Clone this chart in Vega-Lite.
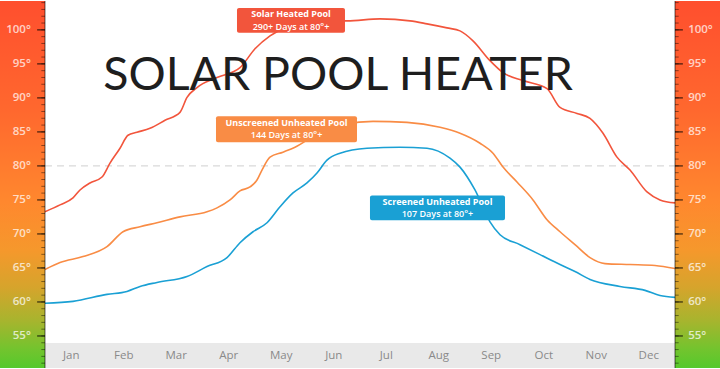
{
  "$schema": "https://vega.github.io/schema/vega-lite/v6.json",
  "width": 720,
  "height": 369,
  "padding": 0,
  "autosize": {"type": "fit", "contains": "padding"},
  "background": "#ffffff",
  "config": {"view": {"stroke": null}, "axis": {"disable": true}},
  "datasets": {
    "temps": [
      {"series": "Solar Heated Pool", "month": 0, "temp": 73.25},
      {"series": "Solar Heated Pool", "month": 0.286, "temp": 74.27},
      {"series": "Solar Heated Pool", "month": 0.533, "temp": 75.29},
      {"series": "Solar Heated Pool", "month": 0.667, "temp": 76.46},
      {"series": "Solar Heated Pool", "month": 0.857, "temp": 77.49},
      {"series": "Solar Heated Pool", "month": 1.086, "temp": 78.36},
      {"series": "Solar Heated Pool", "month": 1.238, "temp": 80.41},
      {"series": "Solar Heated Pool", "month": 1.429, "temp": 82.6},
      {"series": "Solar Heated Pool", "month": 1.581, "temp": 84.5},
      {"series": "Solar Heated Pool", "month": 1.752, "temp": 84.94},
      {"series": "Solar Heated Pool", "month": 2.0, "temp": 85.53},
      {"series": "Solar Heated Pool", "month": 2.286, "temp": 86.7},
      {"series": "Solar Heated Pool", "month": 2.571, "temp": 87.87},
      {"series": "Solar Heated Pool", "month": 2.705, "temp": 90.06},
      {"series": "Solar Heated Pool", "month": 2.895, "temp": 91.52},
      {"series": "Solar Heated Pool", "month": 3.276, "temp": 92.98},
      {"series": "Solar Heated Pool", "month": 3.714, "temp": 94.44},
      {"series": "Solar Heated Pool", "month": 4.0, "temp": 97.22},
      {"series": "Solar Heated Pool", "month": 4.286, "temp": 99.12},
      {"series": "Solar Heated Pool", "month": 4.667, "temp": 100.58},
      {"series": "Solar Heated Pool", "month": 5.238, "temp": 101.32},
      {"series": "Solar Heated Pool", "month": 5.752, "temp": 101.32},
      {"series": "Solar Heated Pool", "month": 6.381, "temp": 101.61},
      {"series": "Solar Heated Pool", "month": 6.952, "temp": 101.32},
      {"series": "Solar Heated Pool", "month": 7.276, "temp": 100.88},
      {"series": "Solar Heated Pool", "month": 7.657, "temp": 100.29},
      {"series": "Solar Heated Pool", "month": 7.905, "temp": 99.85},
      {"series": "Solar Heated Pool", "month": 8.152, "temp": 98.39},
      {"series": "Solar Heated Pool", "month": 8.476, "temp": 95.47},
      {"series": "Solar Heated Pool", "month": 8.724, "temp": 93.71},
      {"series": "Solar Heated Pool", "month": 9.105, "temp": 92.54},
      {"series": "Solar Heated Pool", "month": 9.562, "temp": 91.37},
      {"series": "Solar Heated Pool", "month": 9.81, "temp": 88.6},
      {"series": "Solar Heated Pool", "month": 10.133, "temp": 87.72},
      {"series": "Solar Heated Pool", "month": 10.381, "temp": 86.99},
      {"series": "Solar Heated Pool", "month": 10.629, "temp": 84.8},
      {"series": "Solar Heated Pool", "month": 10.895, "temp": 81.29},
      {"series": "Solar Heated Pool", "month": 11.143, "temp": 79.39},
      {"series": "Solar Heated Pool", "month": 11.467, "temp": 76.17},
      {"series": "Solar Heated Pool", "month": 11.714, "temp": 75.0},
      {"series": "Solar Heated Pool", "month": 12.0, "temp": 74.56},

      {"series": "Unscreened Unheated Pool", "month": 0, "temp": 64.77},
      {"series": "Unscreened Unheated Pool", "month": 0.286, "temp": 65.79},
      {"series": "Unscreened Unheated Pool", "month": 0.724, "temp": 66.67},
      {"series": "Unscreened Unheated Pool", "month": 1.181, "temp": 68.13},
      {"series": "Unscreened Unheated Pool", "month": 1.486, "temp": 70.32},
      {"series": "Unscreened Unheated Pool", "month": 1.81, "temp": 71.05},
      {"series": "Unscreened Unheated Pool", "month": 2.133, "temp": 71.64},
      {"series": "Unscreened Unheated Pool", "month": 2.571, "temp": 72.51},
      {"series": "Unscreened Unheated Pool", "month": 3.086, "temp": 73.25},
      {"series": "Unscreened Unheated Pool", "month": 3.276, "temp": 73.83},
      {"series": "Unscreened Unheated Pool", "month": 3.524, "temp": 75.0},
      {"series": "Unscreened Unheated Pool", "month": 3.714, "temp": 76.32},
      {"series": "Unscreened Unheated Pool", "month": 3.905, "temp": 76.9},
      {"series": "Unscreened Unheated Pool", "month": 4.038, "temp": 77.92},
      {"series": "Unscreened Unheated Pool", "month": 4.133, "temp": 79.39},
      {"series": "Unscreened Unheated Pool", "month": 4.286, "temp": 81.29},
      {"series": "Unscreened Unheated Pool", "month": 4.533, "temp": 82.02},
      {"series": "Unscreened Unheated Pool", "month": 4.762, "temp": 82.75},
      {"series": "Unscreened Unheated Pool", "month": 5.238, "temp": 84.94},
      {"series": "Unscreened Unheated Pool", "month": 5.714, "temp": 86.11},
      {"series": "Unscreened Unheated Pool", "month": 6.248, "temp": 86.55},
      {"series": "Unscreened Unheated Pool", "month": 6.895, "temp": 86.4},
      {"series": "Unscreened Unheated Pool", "month": 7.524, "temp": 85.67},
      {"series": "Unscreened Unheated Pool", "month": 7.905, "temp": 84.8},
      {"series": "Unscreened Unheated Pool", "month": 8.286, "temp": 83.33},
      {"series": "Unscreened Unheated Pool", "month": 8.533, "temp": 81.87},
      {"series": "Unscreened Unheated Pool", "month": 8.724, "temp": 79.82},
      {"series": "Unscreened Unheated Pool", "month": 8.99, "temp": 77.63},
      {"series": "Unscreened Unheated Pool", "month": 9.295, "temp": 75.0},
      {"series": "Unscreened Unheated Pool", "month": 9.562, "temp": 72.08},
      {"series": "Unscreened Unheated Pool", "month": 9.81, "temp": 70.32},
      {"series": "Unscreened Unheated Pool", "month": 10.095, "temp": 68.42},
      {"series": "Unscreened Unheated Pool", "month": 10.381, "temp": 66.52},
      {"series": "Unscreened Unheated Pool", "month": 10.667, "temp": 65.64},
      {"series": "Unscreened Unheated Pool", "month": 11.143, "temp": 65.5},
      {"series": "Unscreened Unheated Pool", "month": 11.619, "temp": 65.35},
      {"series": "Unscreened Unheated Pool", "month": 12.0, "temp": 64.91},

      {"series": "Screened Unheated Pool", "month": 0, "temp": 59.8},
      {"series": "Screened Unheated Pool", "month": 0.533, "temp": 60.09},
      {"series": "Screened Unheated Pool", "month": 1.181, "temp": 61.11},
      {"series": "Screened Unheated Pool", "month": 1.562, "temp": 61.55},
      {"series": "Screened Unheated Pool", "month": 1.81, "temp": 62.28},
      {"series": "Screened Unheated Pool", "month": 2.133, "temp": 62.87},
      {"series": "Screened Unheated Pool", "month": 2.705, "temp": 63.74},
      {"series": "Screened Unheated Pool", "month": 3.086, "temp": 65.2},
      {"series": "Screened Unheated Pool", "month": 3.467, "temp": 66.52},
      {"series": "Screened Unheated Pool", "month": 3.714, "temp": 68.71},
      {"series": "Screened Unheated Pool", "month": 3.962, "temp": 70.32},
      {"series": "Screened Unheated Pool", "month": 4.229, "temp": 71.64},
      {"series": "Screened Unheated Pool", "month": 4.476, "temp": 73.98},
      {"series": "Screened Unheated Pool", "month": 4.724, "temp": 76.02},
      {"series": "Screened Unheated Pool", "month": 4.99, "temp": 77.49},
      {"series": "Screened Unheated Pool", "month": 5.181, "temp": 78.95},
      {"series": "Screened Unheated Pool", "month": 5.371, "temp": 80.85},
      {"series": "Screened Unheated Pool", "month": 5.619, "temp": 81.87},
      {"series": "Screened Unheated Pool", "month": 6.133, "temp": 82.6},
      {"series": "Screened Unheated Pool", "month": 6.762, "temp": 82.75},
      {"series": "Screened Unheated Pool", "month": 7.276, "temp": 82.6},
      {"series": "Screened Unheated Pool", "month": 7.714, "temp": 81.14},
      {"series": "Screened Unheated Pool", "month": 7.905, "temp": 79.82},
      {"series": "Screened Unheated Pool", "month": 8.19, "temp": 76.46},
      {"series": "Screened Unheated Pool", "month": 8.476, "temp": 71.78},
      {"series": "Screened Unheated Pool", "month": 8.667, "temp": 69.88},
      {"series": "Screened Unheated Pool", "month": 9.048, "temp": 68.42},
      {"series": "Screened Unheated Pool", "month": 9.429, "temp": 66.96},
      {"series": "Screened Unheated Pool", "month": 9.81, "temp": 65.5},
      {"series": "Screened Unheated Pool", "month": 10.095, "temp": 64.47},
      {"series": "Screened Unheated Pool", "month": 10.381, "temp": 63.3},
      {"series": "Screened Unheated Pool", "month": 10.952, "temp": 62.28},
      {"series": "Screened Unheated Pool", "month": 11.429, "temp": 61.7},
      {"series": "Screened Unheated Pool", "month": 11.714, "temp": 60.96},
      {"series": "Screened Unheated Pool", "month": 12.0, "temp": 60.67}
    ],
    "months": [
      {"name": "Jan", "pos": 0.5}, {"name": "Feb", "pos": 1.5}, {"name": "Mar", "pos": 2.5},
      {"name": "Apr", "pos": 3.5}, {"name": "May", "pos": 4.5}, {"name": "Jun", "pos": 5.5},
      {"name": "Jul", "pos": 6.5}, {"name": "Aug", "pos": 7.5}, {"name": "Sep", "pos": 8.5},
      {"name": "Oct", "pos": 9.5}, {"name": "Nov", "pos": 10.5}, {"name": "Dec", "pos": 11.5}
    ],
    "degrees": [
      {"deg": 51}, {"deg": 52}, {"deg": 53}, {"deg": 54}, {"deg": 55}, {"deg": 56}, {"deg": 57}, {"deg": 58}, {"deg": 59},
      {"deg": 60}, {"deg": 61}, {"deg": 62}, {"deg": 63}, {"deg": 64}, {"deg": 65}, {"deg": 66}, {"deg": 67}, {"deg": 68}, {"deg": 69},
      {"deg": 70}, {"deg": 71}, {"deg": 72}, {"deg": 73}, {"deg": 74}, {"deg": 75}, {"deg": 76}, {"deg": 77}, {"deg": 78}, {"deg": 79},
      {"deg": 80}, {"deg": 81}, {"deg": 82}, {"deg": 83}, {"deg": 84}, {"deg": 85}, {"deg": 86}, {"deg": 87}, {"deg": 88}, {"deg": 89},
      {"deg": 90}, {"deg": 91}, {"deg": 92}, {"deg": 93}, {"deg": 94}, {"deg": 95}, {"deg": 96}, {"deg": 97}, {"deg": 98}, {"deg": 99},
      {"deg": 100}, {"deg": 101}, {"deg": 102}, {"deg": 103}, {"deg": 104}
    ],
    "scaleLabels": [
      {"deg": 55, "label": "55°"}, {"deg": 60, "label": "60°"}, {"deg": 65, "label": "65°"},
      {"deg": 70, "label": "70°"}, {"deg": 75, "label": "75°"}, {"deg": 80, "label": "80°"},
      {"deg": 85, "label": "85°"}, {"deg": 90, "label": "90°"}, {"deg": 95, "label": "95°"},
      {"deg": 100, "label": "100°"}
    ]
  },
  "layer": [
    {
      "data": {"values": [{}]},
      "mark": {"type": "rect", "fill": "#e9e9e9"},
      "encoding": {
        "x": {"datum": 0, "type": "quantitative", "scale": {"domain": [-0.857, 12.857], "nice": false, "zero": false}},
        "x2": {"datum": 12},
        "y": {"datum": 50.29, "type": "quantitative", "scale": {"domain": [50.29, 104.24], "nice": false, "zero": false}},
        "y2": {"datum": 53.95}
      }
    },
    {
      "data": {"values": [{}]},
      "mark": {"type": "rule", "color": "#cfcfcf", "strokeDash": [7, 5], "strokeWidth": 1},
      "encoding": {
        "x": {"datum": 0, "type": "quantitative"},
        "x2": {"datum": 12},
        "y": {"datum": 80, "type": "quantitative"}
      }
    },
    {
      "data": {"name": "temps"},
      "mark": {"type": "line", "interpolate": "monotone", "strokeWidth": 1.6},
      "encoding": {
        "x": {"field": "month", "type": "quantitative"},
        "y": {"field": "temp", "type": "quantitative"},
        "color": {
          "field": "series", "type": "nominal", "legend": null,
          "scale": {"domain": ["Solar Heated Pool", "Unscreened Unheated Pool", "Screened Unheated Pool"], "range": ["#f2553c", "#f98c45", "#1aa0d4"]}
        }
      }
    },
    {
      "data": {"name": "months"},
      "mark": {"type": "text", "font": "Open Sans", "fontSize": 11.5, "color": "#8a8a8a", "align": "center", "baseline": "middle"},
      "encoding": {
        "x": {"field": "pos", "type": "quantitative"},
        "y": {"datum": 52.1, "type": "quantitative"},
        "text": {"field": "name"}
      }
    },
    {
      "data": {"values": [{"title": "SOLAR POOL HEATER"}]},
      "mark": {"type": "text", "font": "Lato", "fontWeight": "normal", "fontSize": 46.5, "color": "#1e1e1e", "align": "center", "baseline": "alphabetic"},
      "encoding": {
        "x": {"datum": 5.581, "type": "quantitative"},
        "y": {"datum": 91.1, "type": "quantitative"},
        "text": {"field": "title"}
      }
    },
    {
      "data": {"values": [{"series": "Solar Heated Pool", "note": "290+ Days at 80°+"}]},
      "layer": [
        {"mark": {"type": "rect", "fill": "#f2553c", "cornerRadius": 2},
         "encoding": {"x": {"datum": 3.657, "type": "quantitative"}, "x2": {"datum": 5.714}, "y": {"datum": 99.56, "type": "quantitative"}, "y2": {"datum": 103.22}}},
        {"mark": {"type": "text", "font": "Open Sans", "fontWeight": "bold", "fontSize": 9, "color": "#ffffff", "align": "center", "baseline": "middle"},
         "encoding": {"x": {"datum": 4.686, "type": "quantitative"}, "y": {"datum": 102.3, "type": "quantitative"}, "text": {"field": "series"}}},
        {"mark": {"type": "text", "font": "Open Sans", "fontWeight": 600, "fontSize": 9, "color": "#ffffff", "align": "center", "baseline": "middle"},
         "encoding": {"x": {"datum": 4.686, "type": "quantitative"}, "y": {"datum": 100.48, "type": "quantitative"}, "text": {"field": "note"}}}
      ]
    },
    {
      "data": {"values": [{"series": "Unscreened Unheated Pool", "note": "144 Days at 80°+"}]},
      "layer": [
        {"mark": {"type": "rect", "fill": "#f98c45", "cornerRadius": 2},
         "encoding": {"x": {"datum": 3.257, "type": "quantitative"}, "x2": {"datum": 5.943}, "y": {"datum": 83.48, "type": "quantitative"}, "y2": {"datum": 87.28}}},
        {"mark": {"type": "text", "font": "Open Sans", "fontWeight": "bold", "fontSize": 9, "color": "#ffffff", "align": "center", "baseline": "middle"},
         "encoding": {"x": {"datum": 4.6, "type": "quantitative"}, "y": {"datum": 86.29, "type": "quantitative"}, "text": {"field": "series"}}},
        {"mark": {"type": "text", "font": "Open Sans", "fontWeight": 600, "fontSize": 9, "color": "#ffffff", "align": "center", "baseline": "middle"},
         "encoding": {"x": {"datum": 4.6, "type": "quantitative"}, "y": {"datum": 84.47, "type": "quantitative"}, "text": {"field": "note"}}}
      ]
    },
    {
      "data": {"values": [{"series": "Screened Unheated Pool", "note": "107 Days at 80°+"}]},
      "layer": [
        {"mark": {"type": "rect", "fill": "#1aa0d4", "cornerRadius": 2},
         "encoding": {"x": {"datum": 6.19, "type": "quantitative"}, "x2": {"datum": 8.762}, "y": {"datum": 72.0, "type": "quantitative"}, "y2": {"datum": 75.65}}},
        {"mark": {"type": "text", "font": "Open Sans", "fontWeight": "bold", "fontSize": 9, "color": "#ffffff", "align": "center", "baseline": "middle"},
         "encoding": {"x": {"datum": 7.476, "type": "quantitative"}, "y": {"datum": 74.74, "type": "quantitative"}, "text": {"field": "series"}}},
        {"mark": {"type": "text", "font": "Open Sans", "fontWeight": 600, "fontSize": 9, "color": "#ffffff", "align": "center", "baseline": "middle"},
         "encoding": {"x": {"datum": 7.476, "type": "quantitative"}, "y": {"datum": 72.92, "type": "quantitative"}, "text": {"field": "note"}}}
      ]
    },
    {
      "data": {"values": [{}]},
      "mark": {"type": "rect", "fill": {"gradient": "linear", "x1": 0, "y1": 0, "x2": 0, "y2": 1,
        "stops": [
          {"offset": 0, "color": "#ff4f2e"}, {"offset": 0.3, "color": "#ff682e"},
          {"offset": 0.55, "color": "#ff882e"}, {"offset": 0.68, "color": "#f5982c"},
          {"offset": 0.78, "color": "#d6a42c"}, {"offset": 0.87, "color": "#a8b42e"},
          {"offset": 0.95, "color": "#72c42e"}, {"offset": 1, "color": "#55c92c"}]}},
      "encoding": {
        "x": {"datum": -0.857, "type": "quantitative"}, "x2": {"datum": 0},
        "y": {"datum": 50.29, "type": "quantitative"}, "y2": {"datum": 104.24}
      }
    },
    {
      "data": {"values": [{}]},
      "mark": {"type": "rect", "fill": {"gradient": "linear", "x1": 0, "y1": 0, "x2": 0, "y2": 1,
        "stops": [
          {"offset": 0, "color": "#ff4f2e"}, {"offset": 0.3, "color": "#ff682e"},
          {"offset": 0.55, "color": "#ff882e"}, {"offset": 0.68, "color": "#f5982c"},
          {"offset": 0.78, "color": "#d6a42c"}, {"offset": 0.87, "color": "#a8b42e"},
          {"offset": 0.95, "color": "#72c42e"}, {"offset": 1, "color": "#55c92c"}]}},
      "encoding": {
        "x": {"datum": 12, "type": "quantitative"}, "x2": {"datum": 12.857},
        "y": {"datum": 50.29, "type": "quantitative"}, "y2": {"datum": 104.24}
      }
    },
    {
      "data": {"values": [{}]},
      "mark": {"type": "rule", "color": "#000000", "opacity": 0.5, "strokeWidth": 1.2},
      "encoding": {"x": {"datum": 0, "type": "quantitative"}, "y": {"datum": 50.29, "type": "quantitative"}, "y2": {"datum": 104.24}}
    },
    {
      "data": {"values": [{}]},
      "mark": {"type": "rule", "color": "#000000", "opacity": 0.5, "strokeWidth": 1.2},
      "encoding": {"x": {"datum": 12, "type": "quantitative"}, "y": {"datum": 50.29, "type": "quantitative"}, "y2": {"datum": 104.24}}
    },
    {
      "data": {"name": "degrees"},
      "mark": {"type": "rule", "color": "#000000", "opacity": 0.45, "strokeWidth": 1},
      "encoding": {"x": {"datum": -0.07, "type": "quantitative"}, "x2": {"datum": 0}, "y": {"field": "deg", "type": "quantitative"}}
    },
    {
      "data": {"name": "degrees"},
      "mark": {"type": "rule", "color": "#000000", "opacity": 0.45, "strokeWidth": 1},
      "encoding": {"x": {"datum": 12, "type": "quantitative"}, "x2": {"datum": 12.07}, "y": {"field": "deg", "type": "quantitative"}}
    },
    {
      "data": {"name": "scaleLabels"},
      "mark": {"type": "rule", "color": "#000000", "opacity": 0.6, "strokeWidth": 1.5},
      "encoding": {"x": {"datum": -0.15, "type": "quantitative"}, "x2": {"datum": 0}, "y": {"field": "deg", "type": "quantitative"}}
    },
    {
      "data": {"name": "scaleLabels"},
      "mark": {"type": "rule", "color": "#000000", "opacity": 0.6, "strokeWidth": 1.5},
      "encoding": {"x": {"datum": 12, "type": "quantitative"}, "x2": {"datum": 12.15}, "y": {"field": "deg", "type": "quantitative"}}
    },
    {
      "data": {"name": "scaleLabels"},
      "mark": {"type": "text", "font": "Open Sans", "fontWeight": 600, "fontSize": 11.5, "color": "#ffffff", "opacity": 0.72, "align": "right", "baseline": "middle"},
      "encoding": {"x": {"datum": -0.27, "type": "quantitative"}, "y": {"field": "deg", "type": "quantitative"}, "text": {"field": "label"}}
    },
    {
      "data": {"name": "scaleLabels"},
      "mark": {"type": "text", "font": "Open Sans", "fontWeight": 600, "fontSize": 11.5, "color": "#ffffff", "opacity": 0.72, "align": "left", "baseline": "middle"},
      "encoding": {"x": {"datum": 12.25, "type": "quantitative"}, "y": {"field": "deg", "type": "quantitative"}, "text": {"field": "label"}}
    }
  ]
}
